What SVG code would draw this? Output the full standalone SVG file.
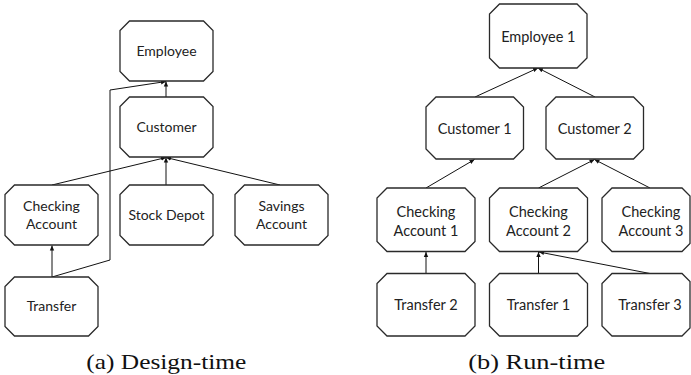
<svg xmlns="http://www.w3.org/2000/svg" width="691" height="375" viewBox="0 0 691 375">
<style>
.box{fill:#fff;stroke:#2a2a2a;stroke-width:1.3}
.t{font-family:Lato,"Liberation Sans",sans-serif;font-size:14px;fill:#222;text-anchor:middle}
.tb{font-size:14.5px}
.c{fill:none;stroke:#111;stroke-width:1}
.cap{font-family:"Liberation Serif","DejaVu Serif",serif;font-size:21px;fill:#111;text-anchor:middle}
</style>
<defs>
<marker id="ah" markerUnits="userSpaceOnUse" markerWidth="6" markerHeight="6" viewBox="0 0 6 6" refX="5" refY="3" orient="auto">
<path d="M0,0.8 L5,3 L0,5.2 Z" fill="#111"/>
</marker>
</defs>
<rect width="691" height="375" fill="#fff"/>
<g id="connectors">
<line class="c" x1="166" y1="97" x2="166" y2="81.5" marker-end="url(#ah)"/>
<line class="c" x1="52" y1="185" x2="166" y2="157.5" marker-end="url(#ah)"/>
<line class="c" x1="166" y1="185" x2="166" y2="157.5" marker-end="url(#ah)"/>
<line class="c" x1="280" y1="185" x2="166" y2="157.5" marker-end="url(#ah)"/>
<line class="c" x1="52" y1="277" x2="52" y2="245.5" marker-end="url(#ah)"/>
<polyline class="c" points="52,277 110,260 110,90 166,81.5" marker-end="url(#ah)"/>
<line class="c" x1="475" y1="97" x2="538" y2="68" marker-end="url(#ah)"/>
<line class="c" x1="595" y1="97" x2="538" y2="68" marker-end="url(#ah)"/>
<line class="c" x1="426" y1="188" x2="474.5" y2="159.5" marker-end="url(#ah)"/>
<line class="c" x1="538.5" y1="188" x2="594.5" y2="159.5" marker-end="url(#ah)"/>
<line class="c" x1="650" y1="188" x2="594.5" y2="159.5" marker-end="url(#ah)"/>
<line class="c" x1="426" y1="273.5" x2="426" y2="252" marker-end="url(#ah)"/>
<line class="c" x1="538.5" y1="273.5" x2="538.5" y2="252" marker-end="url(#ah)"/>
<line class="c" x1="650" y1="273.5" x2="539" y2="252" marker-end="url(#ah)"/>
</g>
<g id="employee">
<polygon class="box" points="129.5,21 203.5,21 213,30.5 213,71.5 203.5,81 129.5,81 120,71.5 120,30.5"/>
<text class="t" x="166.5" y="56">Employee</text>
</g>
<g id="customer">
<polygon class="box" points="129.5,97 203.5,97 213,106.5 213,147.5 203.5,157 129.5,157 120,147.5 120,106.5"/>
<text class="t" x="166.5" y="132">Customer</text>
</g>
<g id="checking-account">
<polygon class="box" points="14.5,185 88.5,185 98,194.5 98,235.5 88.5,245 14.5,245 5,235.5 5,194.5"/>
<text class="t" x="51.5" y="211">Checking</text>
<text class="t" x="51.5" y="229">Account</text>
</g>
<g id="stock-depot">
<polygon class="box" points="129.5,185 203.5,185 213,194.5 213,235.5 203.5,245 129.5,245 120,235.5 120,194.5"/>
<text class="t" x="166.5" y="220">Stock Depot</text>
</g>
<g id="savings-account">
<polygon class="box" points="244.5,185 318.5,185 328,194.5 328,235.5 318.5,245 244.5,245 235,235.5 235,194.5"/>
<text class="t" x="281.5" y="211">Savings</text>
<text class="t" x="281.5" y="229">Account</text>
</g>
<g id="transfer">
<polygon class="box" points="14.5,277 88.5,277 98,286.5 98,326.5 88.5,336 14.5,336 5,326.5 5,286.5"/>
<text class="t" x="51.5" y="311">Transfer</text>
</g>
<g id="employee-1">
<polygon class="box" points="499.5,4 577,4 587,14 587,58 577,68 499.5,68 489.5,58 489.5,14"/>
<text class="t tb" x="538.3" y="41.5">Employee 1</text>
</g>
<g id="customer-1">
<polygon class="box" points="436,97 513.5,97 523.5,107 523.5,149 513.5,159 436,159 426,149 426,107"/>
<text class="t tb" x="474.7" y="133.5">Customer 1</text>
</g>
<g id="customer-2">
<polygon class="box" points="556,97 633.5,97 643.5,107 643.5,149 633.5,159 556,159 546,149 546,107"/>
<text class="t tb" x="594.7" y="133.5">Customer 2</text>
</g>
<g id="checking-account-1">
<polygon class="box" points="387,188 465,188 475,198 475,241.5 465,251.5 387,251.5 377,241.5 377,198"/>
<text class="t tb" x="426" y="217">Checking</text>
<text class="t tb" x="426" y="236">Account 1</text>
</g>
<g id="checking-account-2">
<polygon class="box" points="499.5,188 577.5,188 587.5,198 587.5,241.5 577.5,251.5 499.5,251.5 489.5,241.5 489.5,198"/>
<text class="t tb" x="538.5" y="217">Checking</text>
<text class="t tb" x="538.5" y="236">Account 2</text>
</g>
<g id="checking-account-3">
<polygon class="box" points="612,188 682,188 690,196 690,243.5 682,251.5 612,251.5 602,241.5 602,198"/>
<text class="t tb" x="651" y="217">Checking</text>
<text class="t tb" x="651" y="236">Account 3</text>
</g>
<g id="transfer-2">
<polygon class="box" points="387,273.5 465,273.5 475,283.5 475,326 465,336 387,336 377,326 377,283.5"/>
<text class="t tb" x="426" y="310">Transfer 2</text>
</g>
<g id="transfer-1">
<polygon class="box" points="499.5,273.5 577.5,273.5 587.5,283.5 587.5,326 577.5,336 499.5,336 489.5,326 489.5,283.5"/>
<text class="t tb" x="538.5" y="310">Transfer 1</text>
</g>
<g id="transfer-3">
<polygon class="box" points="612,273.5 682,273.5 690,281.5 690,328 682,336 612,336 602,326 602,283.5"/>
<text class="t tb" x="650" y="310">Transfer 3</text>
</g>
<text class="cap" x="166.3" y="369" textLength="160" lengthAdjust="spacingAndGlyphs">(a) Design-time</text>
<text class="cap" x="536.7" y="369" textLength="137" lengthAdjust="spacingAndGlyphs">(b) Run-time</text>
</svg>
